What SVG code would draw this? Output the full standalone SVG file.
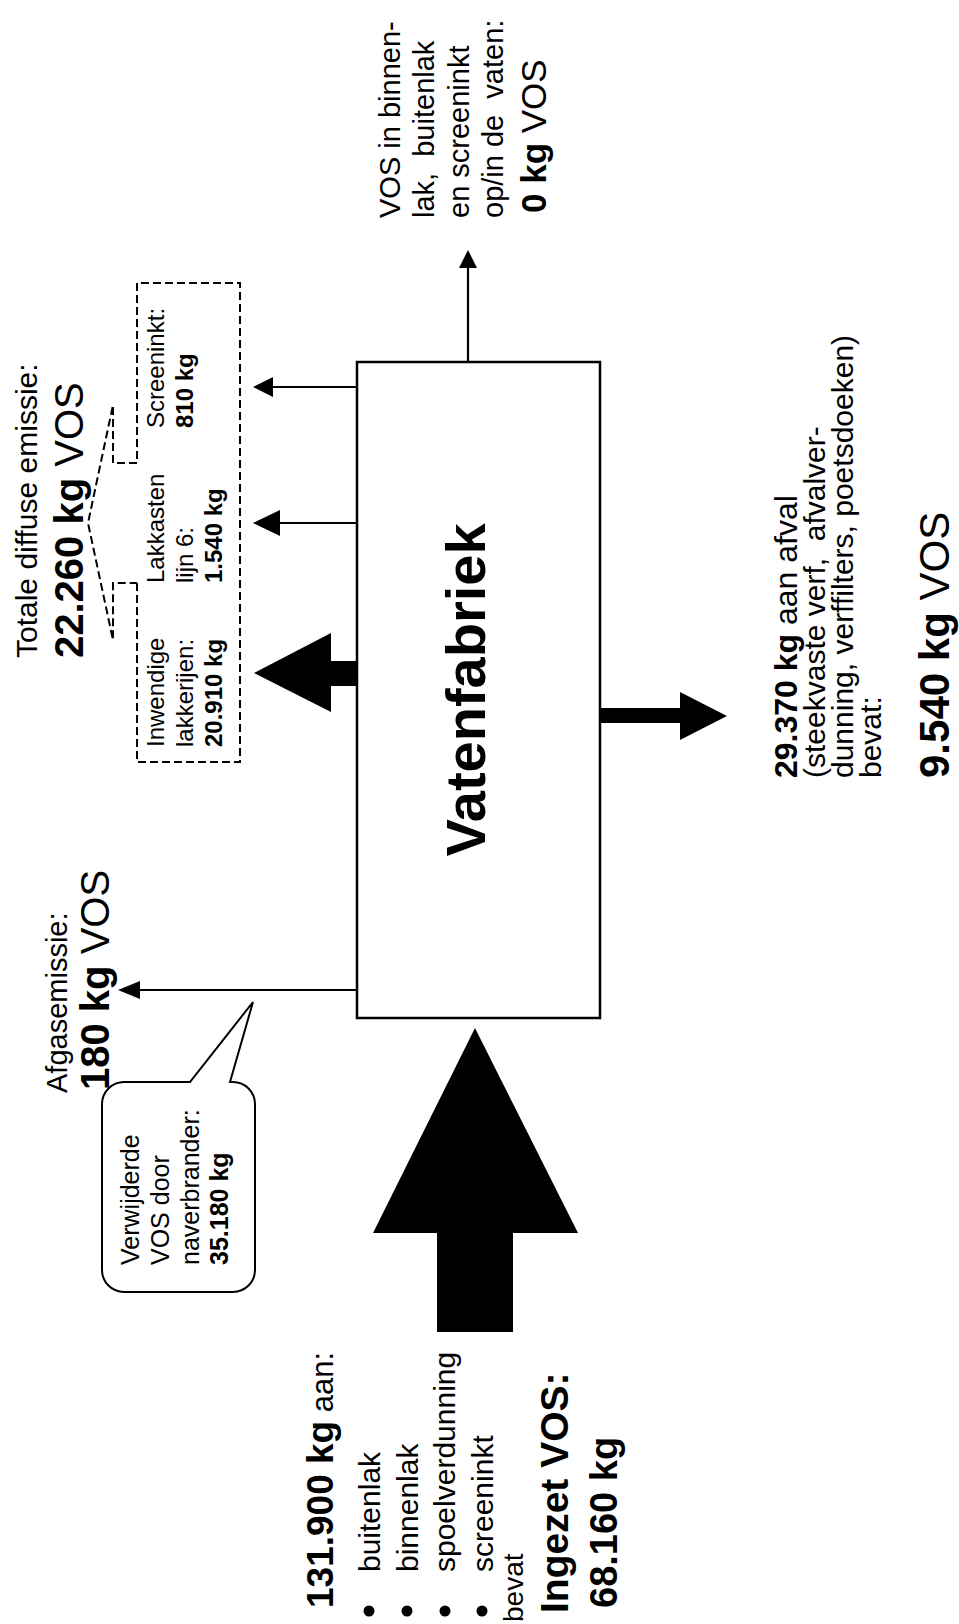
<svg xmlns="http://www.w3.org/2000/svg" width="959" height="1624" viewBox="0 0 959 1624">
<defs>
<style>
text { font-family: "Liberation Sans", Arial, sans-serif; fill: #000; }
.b { font-weight: bold; }
.ln { stroke: #000; stroke-width: 2.2; fill: none; }
.fill { fill: #000; stroke: none; }
.dash { stroke: #000; stroke-width: 2; fill: none; stroke-dasharray: 8 4; }
</style>
</defs>
<rect width="959" height="1624" fill="#fff"/>

<g id="connectors">
  <!-- to top-right label -->
  <line class="ln" x1="468" y1="362" x2="468" y2="266"/>
  <polygon class="fill" points="459,268 468,250 477,268"/>
  <!-- diffuse small arrows -->
  <line class="ln" x1="357" y1="387" x2="271" y2="387"/>
  <polygon class="fill" points="273,377 253,387 273,397"/>
  <line class="ln" x1="357" y1="523" x2="278" y2="523"/>
  <polygon class="fill" points="280,510 253,523 280,536"/>
  <!-- diffuse big arrow -->
  <rect class="fill" x="330" y="661" width="27" height="25"/>
  <polygon class="fill" points="331,633 254,673 331,712"/>
  <!-- afgas -->
  <line class="ln" x1="357" y1="990" x2="138" y2="990"/>
  <polygon class="fill" points="140,981 118,990 140,999"/>
  <!-- waste -->
  <rect class="fill" x="600" y="708" width="81" height="15"/>
  <polygon class="fill" points="680,692 727,716 680,740"/>
  <!-- input -->
  <polygon class="fill" points="373,1233 475,1028 578,1233"/>
  <rect class="fill" x="437" y="1232" width="76" height="100"/>
</g>

<g id="vatenfabriek">
  <rect x="357" y="362" width="243" height="656" fill="#fff" stroke="#000" stroke-width="2.5"/>
  <text class="b" transform="rotate(-90)" x="-690" y="485" font-size="56" text-anchor="middle">Vatenfabriek</text>
</g>

<g id="product">
  <text transform="rotate(-90)" x="-218" y="400" font-size="29">VOS in binnen-</text>
  <text transform="rotate(-90)" x="-218" y="434" font-size="29" xml:space="preserve">lak,  buitenlak</text>
  <text transform="rotate(-90)" x="-218" y="469" font-size="29">en screeninkt</text>
  <text transform="rotate(-90)" x="-218" y="503" font-size="29" xml:space="preserve">op/in de  vaten:</text>
  <text transform="rotate(-90)" x="-213" y="546" font-size="35"><tspan class="b">0 kg</tspan> VOS</text>
</g>

<g id="diffuse">
  <text transform="rotate(-90)" x="-658" y="37" font-size="30">Totale diffuse emissie:</text>
  <text transform="rotate(-90)" x="-658" y="83" font-size="40"><tspan class="b">22.260 kg</tspan> VOS</text>
  <path class="dash" d="M137,583 V762 H240 V283 H137 V463 H113 V405 L88,523 L113,640 V583 H137"/>
  <text transform="rotate(-90)" x="-747" y="164" font-size="24">Inwendige</text>
  <text transform="rotate(-90)" x="-747" y="193" font-size="24">lakkerijen:</text>
  <text class="b" transform="rotate(-90)" x="-747" y="222" font-size="24">20.910 kg</text>
  <text transform="rotate(-90)" x="-583" y="164" font-size="24">Lakkasten</text>
  <text transform="rotate(-90)" x="-583" y="193" font-size="24">lijn 6:</text>
  <text class="b" transform="rotate(-90)" x="-583" y="222" font-size="24">1.540 kg</text>
  <text transform="rotate(-90)" x="-428" y="164" font-size="24">Screeninkt:</text>
  <text class="b" transform="rotate(-90)" x="-428" y="193" font-size="24">810 kg</text>
</g>

<g id="afgas">
  <text transform="rotate(-90)" x="-1093" y="67" font-size="29">Afgasemissie:</text>
  <text transform="rotate(-90)" x="-1090" y="109" font-size="40"><tspan class="b">180 kg</tspan> VOS</text>
</g>

<g id="naverbrander">
  <path d="M124,1082 H190 L253,1002 L230,1082 H233 A22,22 0 0 1 255,1104 V1270 A22,22 0 0 1 233,1292 H124 A22,22 0 0 1 102,1270 V1104 A22,22 0 0 1 124,1082 Z" fill="#fff" stroke="#000" stroke-width="2"/>
  <text transform="rotate(-90)" x="-1265" y="139" font-size="25">Verwijderde</text>
  <text transform="rotate(-90)" x="-1265" y="169" font-size="25">VOS door</text>
  <text transform="rotate(-90)" x="-1265" y="199" font-size="25">naverbrander:</text>
  <text class="b" transform="rotate(-90)" x="-1265" y="228" font-size="25">35.180 kg</text>
</g>

<g id="afval">
  <text transform="rotate(-90)" x="-778" y="797" font-size="32"><tspan class="b">29.370 kg</tspan> aan afval</text>
  <text transform="rotate(-90)" x="-778" y="825" font-size="30" xml:space="preserve">(steekvaste verf,  afvalver-</text>
  <text transform="rotate(-90)" x="-778" y="853" font-size="30">dunning, verffilters, poetsdoeken)</text>
  <text transform="rotate(-90)" x="-778" y="881" font-size="30">bevat:</text>
  <text transform="rotate(-90)" x="-778" y="949" font-size="42"><tspan class="b">9.540 kg</tspan> VOS</text>
</g>

<g id="input">
  <text transform="rotate(-90)" x="-1608" y="333" font-size="37"><tspan class="b">131.900 kg</tspan><tspan font-size="31"> aan:</tspan></text>
  <circle cx="369" cy="1611" r="5.5"/>
  <circle cx="407" cy="1611" r="5.5"/>
  <circle cx="445" cy="1611" r="5.5"/>
  <circle cx="482" cy="1611" r="5.5"/>
  <text transform="rotate(-90)" x="-1572" y="380" font-size="30">buitenlak</text>
  <text transform="rotate(-90)" x="-1572" y="418" font-size="30">binnenlak</text>
  <text transform="rotate(-90)" x="-1572" y="455" font-size="30">spoelverdunning</text>
  <text transform="rotate(-90)" x="-1572" y="493" font-size="30">screeninkt</text>
  <text transform="rotate(-90)" x="-1622" y="523" font-size="28">bevat</text>
  <text class="b" transform="rotate(-90)" x="-1613" y="568" font-size="39">Ingezet VOS:</text>
  <text class="b" transform="rotate(-90)" x="-1608" y="617" font-size="38">68.160 kg</text>
</g>
</svg>
